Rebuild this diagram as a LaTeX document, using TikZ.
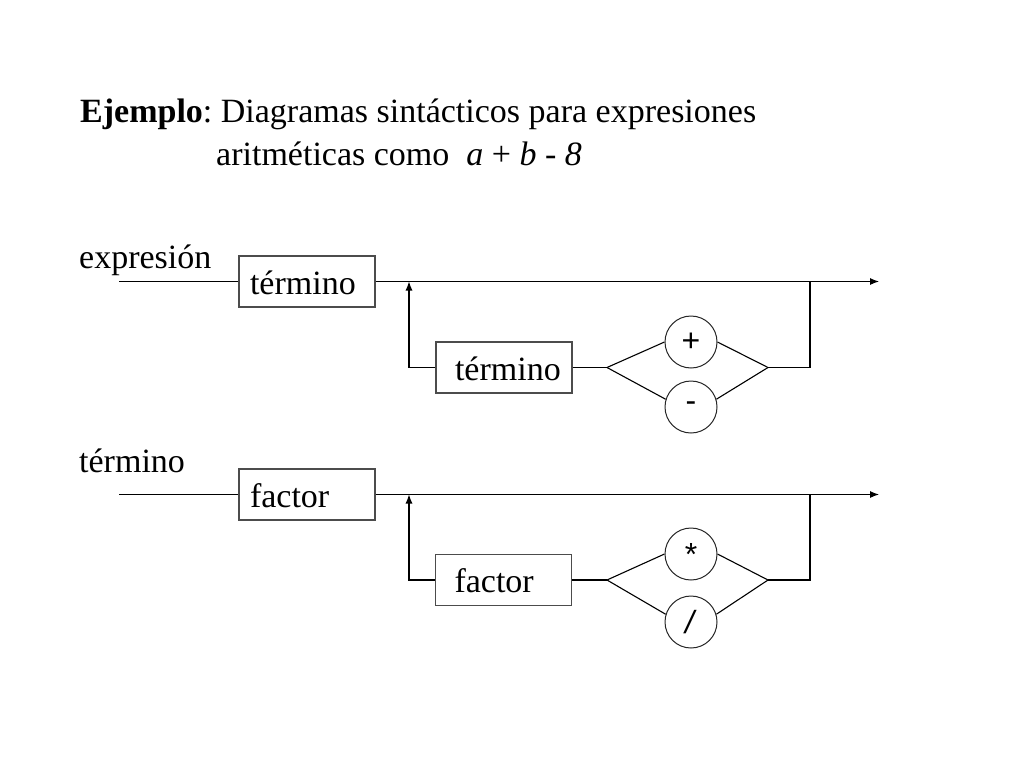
\documentclass[tikz,border=0pt]{standalone}
\usepackage{fontspec}
\setmainfont{Liberation Serif}[ItalicFont={Liberation Serif Italic},BoldFont={Liberation Serif Bold}]
\newfontfamily\symf{Liberation Sans}[ItalicFont={Liberation Sans Italic}]
\usetikzlibrary{arrows.meta}
\frenchspacing
\begin{document}
\begin{tikzpicture}[x=1pt,y=-1pt,
  txt/.style={font=\fontsize{34}{40}\selectfont, inner sep=0pt, anchor=base west},
  box/.style={draw=black!70, line width=1.1pt, font=\fontsize{34}{40}\selectfont,
    minimum width=136pt, minimum height=51pt, inner xsep=0pt, inner ysep=0pt,
    text width=136pt, align=left, text height=38pt, text depth=13pt},
  opc/.style={circle, draw=black!85, line width=1.0pt, minimum size=52pt, inner sep=0pt,
    font=\symf\fontsize{32}{36}\selectfont},
  wire/.style={line width=1.1pt, black},
  tip/.style={-{Latex[length=9pt,width=7pt]}}
]
\useasboundingbox (0,0) rectangle (1024,768);

% title
\node[txt] (t1) at (80,122) {\textbf{Ejemplo}: Diagramas sintácticos para expresiones};
\node[txt] (t2) at (216,165) {aritméticas como \ \textit{a} + \textit{b} - \textit{8}};

% ---------- expresion ----------
\node[txt] (lexp) at (79,268) {expresión};
\coordinate (s1) at (119,281.5);
\node[box] (b1) at (307,281.5) {\hspace*{11pt}término};
\coordinate (end1) at (879,281.5);
\coordinate (lp1) at (409,281.5);
\coordinate (rp1) at (810,281.5);
\node[box] (b2) at (504,367.5) {\hspace*{19pt}término};
\coordinate (dl1) at (607,367.5);
\coordinate (dr1) at (768,367.5);
\node[opc] (plus) at (691,342) {+};
\node[opc] (minus) at (691,407) {-};

\draw[wire] (s1) -- (b1.west);
\draw[wire,tip] (b1.east) -- (end1);
\draw[wire,tip] (b2.west) -| (lp1);
\draw[wire] (b2.east) -- (dl1);
\draw[wire] (dl1) -- (plus.west);
\draw[wire] (dl1) -- (minus.163);
\draw[wire] (plus.east) -- (dr1);
\draw[wire] (minus.17) -- (dr1);
\draw[wire] (dr1) -| (rp1);

% ---------- termino ----------
\node[txt] (lter) at (79,472) {término};
\coordinate (s2) at (119,494.5);
\node[box] (b3) at (307,494.5) {\hspace*{11pt}factor};
\coordinate (end2) at (879,494.5);
\coordinate (lp2) at (409,494.5);
\coordinate (rp2) at (810,494.5);
\node[box] (b4) at (503.5,580) {\hspace*{19pt}factor};
\coordinate (dl2) at (607,580);
\coordinate (dr2) at (768,580);
\node[opc] (star) at (691,554) {*};
\node[opc] (slash) at (691,622) {\textit{/}};

\draw[wire] (s2) -- (b3.west);
\draw[wire,tip] (b3.east) -- (end2);
\draw[wire,tip] (b4.west) -| (lp2);
\draw[wire] (b4.east) -- (dl2);
\draw[wire] (dl2) -- (star.west);
\draw[wire] (dl2) -- (slash.163);
\draw[wire] (star.east) -- (dr2);
\draw[wire] (slash.17) -- (dr2);
\draw[wire] (dr2) -| (rp2);
\end{tikzpicture}
\end{document}
